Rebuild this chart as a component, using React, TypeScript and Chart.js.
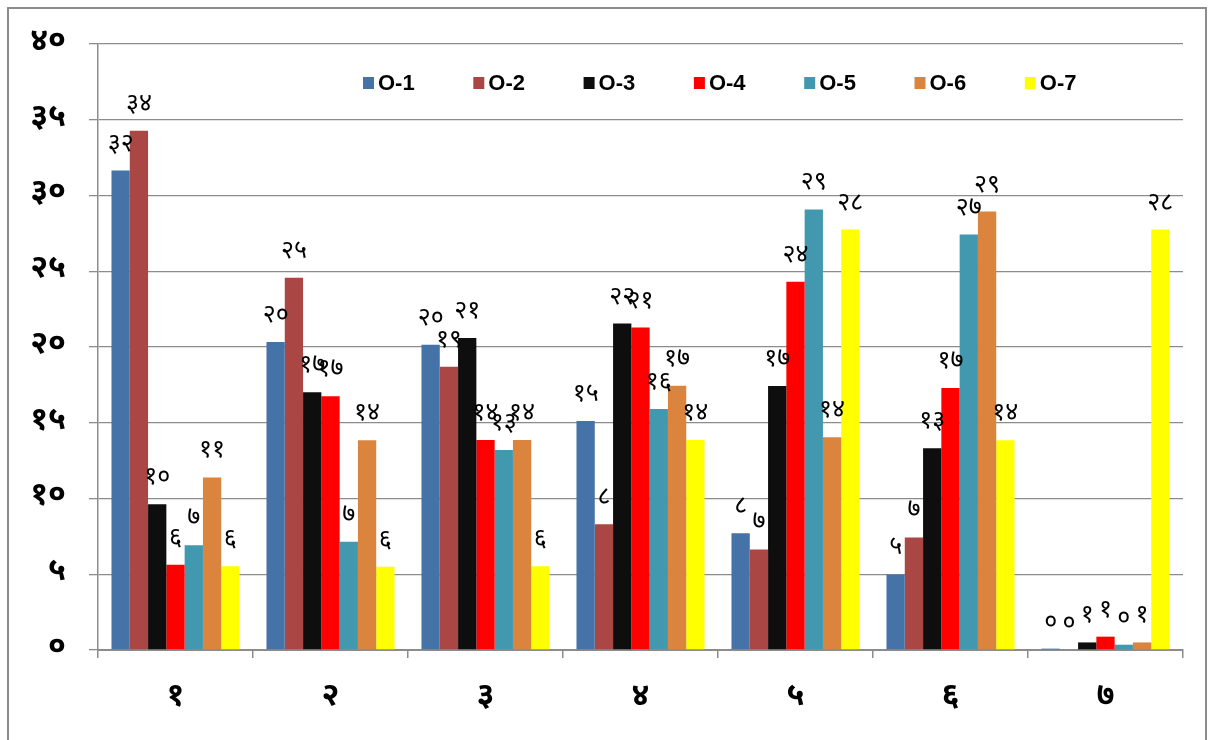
import React, { useEffect, useRef } from "react";
import { Chart, registerables } from "chart.js";

Chart.register(...registerables);

const categories = ["१", "२", "३", "४", "५", "६", "७"];
const seriesNames = ["O-1", "O-2", "O-3", "O-4", "O-5", "O-6", "O-7"];
const o1 = [31.65, 20.33, 20.15, 15.12, 7.7, 4.99, 0.09];
const o2 = [34.28, 24.57, 18.7, 8.3, 6.64, 7.43, 0];
const o3 = [9.62, 17.02, 20.6, 21.55, 17.43, 13.32, 0.5];
const o4 = [5.62, 16.75, 13.86, 21.28, 24.31, 17.3, 0.88];
const o5 = [6.91, 7.15, 13.2, 15.9, 29.08, 27.42, 0.35];
const o6 = [11.39, 13.84, 13.86, 17.44, 14.05, 28.94, 0.5];
const o7 = [5.52, 5.5, 5.52, 13.86, 27.75, 13.85, 27.75];
const seriesValues = [o1, o2, o3, o4, o5, o6, o7];
const seriesColors = ["#4572A7", "#AA4643", "#0E0E0E", "#FF0000", "#4198AF", "#DB843D", "#FFFF00"];
const yMin = 0;
const yMax = 40;
const yStep = 5;

const DEV = "०१२३४५६७८९";
const toDev = (n: number) => String(n).replace(/\d/g, (d) => DEV[+d]);

const DEV_FONT = '"Noto Sans Devanagari", "Lohit Devanagari", "Noto Sans", "DejaVu Sans", sans-serif';
const GRID = "#8C8C8C";

const borderPlugin = {
  id: "outerBorder",
  beforeDraw(chart: any) {
    const ctx = chart.ctx;
    ctx.save();
    ctx.fillStyle = "#ffffff";
    ctx.fillRect(0, 0, chart.width, chart.height);
    ctx.strokeStyle = "#8C8C8C";
    ctx.lineWidth = 2;
    ctx.strokeRect(8, 8, 1198, 760);
    ctx.restore();
  },
};

const labelPlugin = {
  id: "barLabels",
  afterDatasetsDraw(chart: any) {
    const ctx = chart.ctx;
    ctx.save();
    ctx.font = `25px ${DEV_FONT}`;
    ctx.fillStyle = "#000";
    ctx.textAlign = "center";
    ctx.textBaseline = "alphabetic";
    chart.data.datasets.forEach((ds: any, i: number) => {
      const meta = chart.getDatasetMeta(i);
      meta.data.forEach((el: any, j: number) => {
        const v = ds.data[j];
        ctx.fillText(toDev(Math.round(v)), el.x, el.y - 20);
      });
    });
    ctx.restore();
  },
};

const legendPlugin = {
  id: "customLegend",
  afterDraw(chart: any) {
    const ctx = chart.ctx;
    ctx.save();
    const startX = 363;
    const spacing = 110.3;
    const cy = 83;
    ctx.font = 'bold 22px "Liberation Sans", Arial, sans-serif';
    ctx.textBaseline = "middle";
    ctx.textAlign = "left";
    chart.data.datasets.forEach((ds: any, i: number) => {
      const x = startX + i * spacing;
      ctx.fillStyle = ds.backgroundColor;
      ctx.fillRect(x, cy - 6, 11, 12);
      ctx.fillStyle = "#000";
      ctx.fillText(ds.label, x + 15, cy + 1);
    });
    ctx.restore();
  },
};

export default function App() {
  const ref = useRef<HTMLCanvasElement | null>(null);
  useEffect(() => {
    if (!ref.current) return;
    const chart = new Chart(ref.current, {
      type: "bar",
      data: {
        labels: categories,
        datasets: seriesNames.map((name, i) => ({
          label: name,
          data: seriesValues[i],
          backgroundColor: seriesColors[i],
          borderWidth: 0,
          categoryPercentage: 0.826,
          barPercentage: 1.0,
        })),
      },
      options: {
        responsive: false,
        animation: false,
        maintainAspectRatio: false,
        layout: { padding: { left: 0, right: 41, top: 44, bottom: 0 } },
        plugins: {
          legend: { display: false },
          tooltip: { enabled: false },
          title: { display: false },
        },
        scales: {
          x: {
            offset: true,
            grid: {
              display: true,
              offset: true,
              drawOnChartArea: false,
              drawTicks: true,
              tickLength: 8,
              color: GRID,
              lineWidth: 1.5,
            },
            border: { display: true, color: GRID, width: 2 },
            ticks: {
              font: { family: DEV_FONT, size: 32, weight: "bold" },
              color: "#000",
              padding: 22,
            },
            afterFit: (s: any) => {
              s.height = 90;
            },
          },
          y: {
            min: yMin,
            max: yMax,
            ticks: {
              stepSize: yStep,
              font: { family: DEV_FONT, size: 32, weight: "bold" },
              color: "#000",
              padding: 23,
              callback: (v: any) => toDev(Number(v)),
            },
            grid: {
              color: GRID,
              lineWidth: 1.3,
              drawTicks: true,
              tickLength: 9,
            },
            border: { display: true, color: GRID, width: 1.5 },
            afterFit: (s: any) => {
              s.width = 98;
            },
          },
        },
      },
      plugins: [borderPlugin, labelPlugin, legendPlugin],
    });
    return () => chart.destroy();
  }, []);
  return (
    <div style={{ position: "absolute", left: 0, top: 0, width: 1224, height: 740 }}>
      <canvas ref={ref} width={1224} height={740} style={{ width: 1224, height: 740, display: "block" }} />
    </div>
  );
}
